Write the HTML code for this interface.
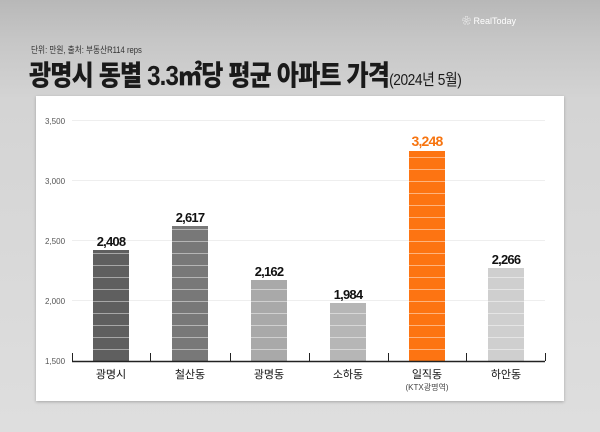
<!DOCTYPE html>
<html><head><meta charset="utf-8"><style>
body{margin:0;width:600px;height:432px;overflow:hidden;font-family:"Liberation Sans","Noto Sans CJK KR",sans-serif;}
.bg{position:absolute;left:0;top:0;width:600px;height:432px;background:linear-gradient(180deg,#b8b8b8 0px,#c6c6c6 40px,#d4d4d4 100px,#dedede 432px);}
.card{position:absolute;left:36px;top:96px;width:528px;height:305px;background:#fff;box-shadow:0 1px 3px rgba(0,0,0,.25);}
.t{position:absolute;white-space:nowrap;transform-origin:0 0;}
</style></head><body>
<div class="bg"></div>
<div class="t" style="left:462px;top:14px;font-size:9px;color:#fff;">❀ RealToday</div>
<div class="t" style="left:31px;top:43px;font-size:9px;color:#333;transform:scaleX(0.85);">단위: 만원, 출처: 부동산R114 reps</div>
<div class="t" style="left:29px;top:54px;font-size:28px;font-weight:900;color:#1a1a1a;letter-spacing:-1px;transform:scaleX(0.86);">광명시 동별 3.3㎡당 평균 아파트 가격<span style="font-size:16px;font-weight:400;letter-spacing:-0.5px;">(2024년 5월)</span></div>
<div class="card"></div>
<svg width="600" height="432" style="position:absolute;left:0;top:0" font-family="Liberation Sans, Noto Sans CJK KR, sans-serif">
<defs>
<pattern id="st" width="10" height="12" patternUnits="userSpaceOnUse" y="1"><rect y="0" width="10" height="1" fill="rgba(255,255,255,0.45)"/></pattern>
</defs>
<g stroke="#eeeeee" stroke-width="1">
<line x1="72" x2="545" y1="120.5" y2="120.5"/><line x1="72" x2="545" y1="180.5" y2="180.5"/><line x1="72" x2="545" y1="240.5" y2="240.5"/><line x1="72" x2="545" y1="300.5" y2="300.5"/>
</g>
<g font-size="8" fill="#555" text-anchor="start">
<text x="45" y="124">3,500</text><text x="45" y="184">3,000</text><text x="45" y="244">2,500</text><text x="45" y="304">2,000</text><text x="45" y="364">1,500</text>
</g>
<g>
<rect x="93" y="250" width="36" height="111" fill="#5f5f5f"/>
<rect x="172" y="226" width="36" height="135" fill="#787878"/>
<rect x="251" y="280" width="36" height="81" fill="#a9a9a9"/>
<rect x="330" y="303" width="36" height="58" fill="#b6b6b6"/>
<rect x="409" y="151" width="36" height="210" fill="#fd7412"/>
<rect x="488" y="268" width="36" height="93" fill="#cfcfcf"/>
<rect x="93" y="250" width="36" height="111" fill="url(#st)"/>
<rect x="172" y="226" width="36" height="135" fill="url(#st)"/>
<rect x="251" y="280" width="36" height="81" fill="url(#st)"/>
<rect x="330" y="303" width="36" height="58" fill="url(#st)"/>
<rect x="409" y="151" width="36" height="210" fill="url(#st)"/>
<rect x="488" y="268" width="36" height="93" fill="url(#st)"/>
</g>
<g stroke="#222"><line x1="72" x2="545" y1="361.5" y2="361.5" stroke-width="1.5"/>
<g stroke-width="1"><line x1="72.5" x2="72.5" y1="353" y2="361"/><line x1="150.5" x2="150.5" y1="353" y2="361"/><line x1="230.5" x2="230.5" y1="353" y2="361"/><line x1="309.5" x2="309.5" y1="353" y2="361"/><line x1="388.5" x2="388.5" y1="353" y2="361"/><line x1="466.5" x2="466.5" y1="353" y2="361"/><line x1="545.5" x2="545.5" y1="353" y2="361"/></g></g>
<g font-size="13" fill="#111" text-anchor="middle" font-weight="bold" letter-spacing="-0.8">
<text x="111" y="246">2,408</text><text x="190" y="222">2,617</text><text x="269" y="276">2,162</text><text x="348" y="299">1,984</text><text x="427" y="146" fill="#f7740f" font-size="14">3,248</text><text x="506" y="264">2,266</text>
</g>
<g font-size="11" fill="#111" text-anchor="middle">
<text x="111" y="378">광명시</text><text x="190" y="378">철산동</text><text x="269" y="378">광명동</text><text x="348" y="378">소하동</text><text x="427" y="378">일직동</text><text x="506" y="378">하안동</text>
<text x="427" y="390" font-size="8" fill="#444">(KTX광명역)</text>
</g>
</svg>
</body></html>
